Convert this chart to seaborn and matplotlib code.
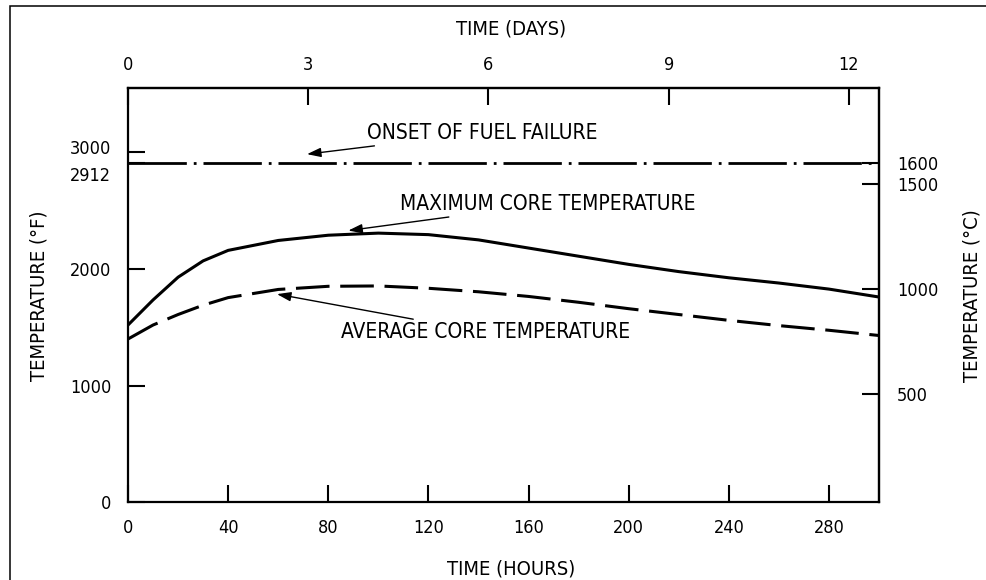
import numpy as np
import pandas as pd
import matplotlib.pyplot as plt
import matplotlib.transforms as mtransforms
from matplotlib.patches import Rectangle
import seaborn as sns

# values (hours, deg F)
hours = [0, 10, 20, 30, 40, 60, 80, 100, 120, 140, 160, 180, 200, 220, 240, 260, 280, 300]
max_core = [1520, 1735, 1930, 2070, 2160, 2245, 2290, 2308, 2295, 2250, 2180, 2110, 2040,
            1978, 1925, 1880, 1828, 1760]
avg_core = [1400, 1520, 1610, 1690, 1755, 1825, 1852, 1855, 1835, 1805, 1765, 1715, 1660,
            1610, 1560, 1515, 1475, 1430]
fuel_failure_f = 2912

hour_ticks = [0, 40, 80, 120, 160, 200, 240, 280]
day_ticks = [0, 3, 6, 9, 12]
f_ticks = [0, 1000, 2000, 2912, 3000]
c_ticks = [500, 1000, 1500, 1600]

sns.set_style('ticks')
plt.rcParams['font.family'] = ['DejaVu Sans']
plt.rcParams['font.stretch'] = 'condensed'
plt.rcParams['font.size'] = 14
plt.rcParams['text.color'] = 'black'
plt.rcParams['axes.labelcolor'] = 'black'

df = pd.DataFrame({'hours': hours, 'max': max_core, 'avg': avg_core})

fig = plt.figure(figsize=(9.87, 5.80), dpi=100)
ax = fig.add_axes([0.1297, 0.134, 0.8906 - 0.1297, 0.8478 - 0.134])

sns.lineplot(data=df, x='hours', y='max', ax=ax, color='black', lw=2.2)
sns.lineplot(data=df, x='hours', y='avg', ax=ax, color='black', lw=2.2,
             linestyle=(0, (11, 3.5)))
ax.axhline(fuel_failure_f, color='black', lw=2, linestyle=(0, (21, 2.5, 1, 2.5)))

ax.set_xlim(0, 300)
ax.set_ylim(0, 3550)
for s in ax.spines.values():
    s.set_linewidth(1.6)
    s.set_color('black')

tick_fs = 13
lab_fs = 14.5
ann_fs = 15

ax.set_xticks(hour_ticks)
ax.set_yticks(f_ticks)
ax.set_yticklabels([str(v) for v in f_ticks])
ax.tick_params(axis='both', direction='in', length=12, width=1.5, colors='black',
               labelsize=tick_fs, pad=12)
ax.set_xlabel('TIME (HOURS)', fontsize=lab_fs)
ax.set_ylabel('TEMPERATURE (°F)', fontsize=lab_fs)
ax.xaxis.set_label_coords(0.51, -0.139)
ax.yaxis.set_label_coords(-0.1065, 0.5)

# spread the 3000 / 2912 labels apart
lbls = ax.get_yticklabels()
for lbl, dy in [(lbls[3], -0.11), (lbls[4], 0.05)]:
    lbl.set_transform(lbl.get_transform() +
                      mtransforms.ScaledTranslation(0, dy, fig.dpi_scale_trans))

top = ax.secondary_xaxis('top', functions=(lambda h: h / 24.0, lambda d: d * 24.0))
top.set_xticks(day_ticks)
top.tick_params(direction='in', length=12, width=1.5, labelsize=tick_fs, pad=10,
                colors='black')
top.set_xlabel('TIME (DAYS)', fontsize=lab_fs)
top.xaxis.set_label_coords(0.51, 1.131, transform=ax.transAxes)
top.spines['top'].set_linewidth(1.6)

right = ax.secondary_yaxis('right', functions=(lambda f: (f - 32) / 1.8,
                                                lambda c: c * 1.8 + 32))
right.set_yticks(c_ticks)
right.tick_params(direction='in', length=12, width=1.5, labelsize=tick_fs, pad=13,
                  colors='black')
right.set_ylabel('TEMPERATURE (°C)', fontsize=lab_fs)
right.yaxis.set_label_coords(1.1105, 0.5, transform=ax.transAxes)
right.spines['right'].set_linewidth(1.6)

arrow = dict(arrowstyle='-|>,head_length=0.6,head_width=0.2', color='black', lw=1,
             mutation_scale=14, shrinkA=0, shrinkB=0)
ax.annotate('ONSET OF FUEL FAILURE', xy=(71.5, 2985), xytext=(95.5, 3170),
            va='center', ha='left', fontsize=ann_fs, arrowprops=arrow)
ax.annotate('MAXIMUM CORE TEMPERATURE', xy=(88, 2330), xytext=(108.5, 2560),
            va='center', ha='left', fontsize=ann_fs, arrowprops=arrow)
ax.annotate('AVERAGE CORE TEMPERATURE', xy=(59.5, 1785), xytext=(85, 1456),
            va='center', ha='left', fontsize=ann_fs, arrowprops=arrow)

# page frame of the scanned figure
fig.patches.append(Rectangle((10.5 / 987, -0.1), 1.2, 1.1 - 6 / 580, fill=False,
                             lw=1.1, ec='black', transform=fig.transFigure))

fig.savefig('out.png', dpi=100)
